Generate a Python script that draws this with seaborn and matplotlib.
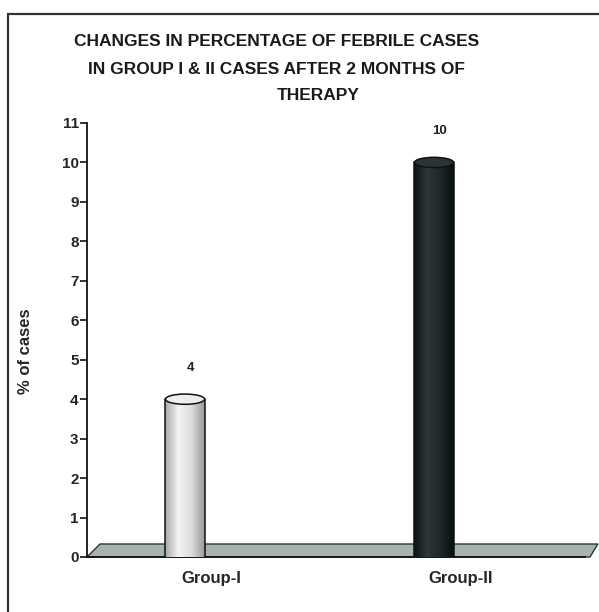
import matplotlib.pyplot as plt
import matplotlib.transforms as mtransforms
from matplotlib.colors import LinearSegmentedColormap
from matplotlib.patches import Ellipse, Polygon, Rectangle
import numpy as np
import pandas as pd
import seaborn as sns

groups = ["Group-I", "Group-II"]
percent_cases = [4, 10]
value_labels = ["4", "10"]
y_ticks = list(range(0, 12))
title_lines = ["CHANGES IN PERCENTAGE OF FEBRILE CASES",
               "IN GROUP I & II CASES AFTER 2 MONTHS OF",
               "THERAPY"]

sns.set_theme(style="white")
plt.rcParams["font.family"] = ["Liberation Sans", "DejaVu Sans"]
plt.rcParams["font.weight"] = "bold"

df = pd.DataFrame({"group": groups, "pct": percent_cases})

fig = plt.figure(figsize=(5.99, 6.12), dpi=100)
ax = fig.add_axes([87 / 599, 1 - 557 / 612, (585 - 87) / 599, (557 - 123) / 612])

sns.barplot(data=df, x="group", y="pct", hue="group",
            palette=["#e2e2e2", "#1c2323"], width=0.157,
            linewidth=0, legend=False, ax=ax, zorder=3)

# fake 3d: bars sit a bit to the left of the category centre
depth = ax.transData + mtransforms.ScaledTranslation(-0.265, 0.0, fig.dpi_scale_trans)

gradients = [
    LinearSegmentedColormap.from_list("light", ["#a9a9a9", "#f4f4f4", "#dcdcdc", "#9a9a9a"]),
    LinearSegmentedColormap.from_list("dark", ["#0c1111", "#2e3838", "#1e2626", "#0a0e0e"]),
]
tops = ["#ededed", "#2b3333"]
grad = np.linspace(0, 1, 64).reshape(1, -1)

for bar, cmap, top in zip(list(ax.patches), gradients, tops):
    bar.set_transform(depth)
    x0, w, h = bar.get_x(), bar.get_width(), bar.get_height()
    xc = x0 + w / 2
    im = ax.imshow(grad, cmap=cmap, aspect="auto", extent=(x0, x0 + w, 0, h),
                   transform=depth, zorder=3.1)
    im.set_clip_path(bar)
    # rounded bottom
    ax.add_patch(Ellipse((xc, 0), w, 0.26, transform=depth, facecolor=cmap(0.5),
                         edgecolor="#111111", linewidth=1.1, zorder=2.9))
    ax.plot([x0, x0], [0, h], color="#111111", lw=1.1, transform=depth, zorder=3.2)
    ax.plot([x0 + w, x0 + w], [0, h], color="#111111", lw=1.1, transform=depth, zorder=3.2)
    ax.add_patch(Ellipse((xc, h), w, 0.26, transform=depth, facecolor=top,
                         edgecolor="#111111", linewidth=1.1, zorder=3.3))

# floor slab
floor = Polygon([(0, 0), (1.01, 0), (1.026, 13 / 434), (13 / 498, 13 / 434)],
                closed=True, transform=ax.transAxes, facecolor="#a7b4ae",
                edgecolor="#2a3835", linewidth=1.0, clip_on=False, zorder=2)
ax.add_patch(floor)

for i, (v, lab) in enumerate(zip(percent_cases, value_labels)):
    ax.annotate(lab, xy=(i, v), xytext=(-15, 18), textcoords="offset points",
                ha="center", va="bottom", fontsize=9.5, fontweight="bold", color="#222222")

ax.set_xlim(-0.5, 1.5)
ax.set_ylim(0, 11)
ax.set_yticks(y_ticks)
ax.set_xticks([0, 1])
ax.set_xticklabels(groups)
ax.set_xticks([-0.5, 0.5, 1.5], minor=True)
ax.tick_params(axis="x", which="major", length=0, pad=10, labelsize=12)
ax.tick_params(axis="x", which="minor", direction="out", length=6, width=1.2, color="#111111")
ax.tick_params(axis="y", direction="out", length=5, width=1.2, color="#111111",
               labelsize=11, pad=1, left=True)
ax.set_xlabel("")
ax.set_ylabel("% of cases", fontsize=12, fontweight="bold")
ax.yaxis.set_label_coords((33 - 87) / 498, (557 - 351) / 434)

for side in ["top", "right"]:
    ax.spines[side].set_visible(False)
for side in ["left", "bottom"]:
    ax.spines[side].set_color("#111111")
    ax.spines[side].set_linewidth(1.3)
ax.grid(False)

title_x = [277, 276, 318]
title_y = [42, 70, 95]
for line, tx, ty in zip(title_lines, title_x, title_y):
    fig.text(tx / 599, 1 - ty / 612, line, ha="center", va="center",
             fontsize=12.5, fontweight="bold", color="#1a1a1a")

fig.add_artist(Rectangle((8 / 599, -0.02), 1.0, 1 - 14 / 612 + 0.02, transform=fig.transFigure,
                         fill=False, edgecolor="#333333", linewidth=1.6))

fig.savefig("out.png", dpi=100)
